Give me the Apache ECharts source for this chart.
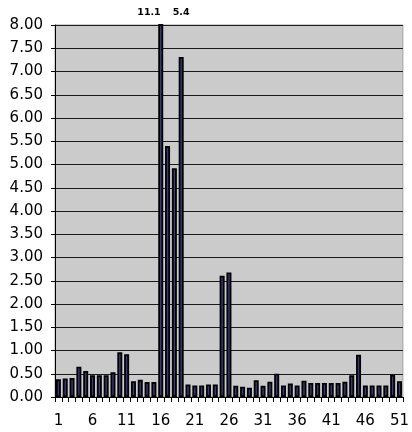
<!DOCTYPE html>
<html>
<head>
<meta charset="utf-8">
<script src="https://cdn.jsdelivr.net/npm/echarts@6/dist/echarts.min.js"></script>
<style>
  html, body { margin: 0; padding: 0; background: #fff; }
  #chart { width: 412px; height: 432px; }
</style>
</head>
<body>
<div id="chart"></div>
<script>
// Category numbers along the x axis
var categories = [];
for (var n = 1; n <= 51; n++) categories.push(String(n));

// Bar values, one per category
var values = [
  0.38, 0.40, 0.41, 0.65, 0.56, 0.47, 0.47, 0.47, 0.53, 0.96,
  0.92, 0.34, 0.37, 0.32, 0.32, 11.1, 5.4, 4.92, 7.31, 0.27,
  0.25, 0.25, 0.27, 0.27, 2.61, 2.68, 0.24, 0.22, 0.20, 0.36,
  0.24, 0.33, 0.50, 0.25, 0.29, 0.25, 0.35, 0.30, 0.30, 0.30,
  0.30, 0.30, 0.33, 0.47, 0.91, 0.25, 0.25, 0.25, 0.25, 0.48,
  0.34
];

// Value axis range
var yMin = 0, yMax = 8, yStep = 0.5;

// Bars taller than the axis get their value written above the plot
var overflowLabels = [
  { index: 15, text: '11.1', align: 'right', dx: 0 },
  { index: 15, text: '5.4', align: 'left', dx: 12 }
];

var FONT = '"DejaVu Sans", Verdana, sans-serif';

var chart = echarts.init(document.getElementById('chart'), null, { renderer: 'canvas' });

chart.setOption({
  animation: false,
  grid: {
    left: 55, right: 8, top: 25, bottom: 35,
    show: true,
    backgroundColor: '#cbcbcb',
    borderColor: '#a0a0a0',
    borderWidth: 1
  },
  xAxis: {
    type: 'category',
    data: categories,
    boundaryGap: true,
    axisLine: { lineStyle: { color: '#000', width: 1 } },
    axisTick: { show: true, interval: 0, length: 5, lineStyle: { color: '#000' } },
    axisLabel: {
      interval: 4,
      margin: 17,
      fontFamily: FONT,
      fontSize: 15,
      color: '#000'
    },
    splitLine: { show: false }
  },
  yAxis: {
    type: 'value',
    min: yMin,
    max: yMax,
    interval: yStep,
    axisLine: { show: true, lineStyle: { color: '#000', width: 1 } },
    axisTick: { show: true, length: 4, lineStyle: { color: '#000' } },
    axisLabel: {
      margin: 12,
      fontFamily: FONT,
      fontSize: 15,
      color: '#000',
      formatter: function (v) { return v.toFixed(2); }
    },
    splitLine: { show: true, lineStyle: { color: '#1a1a1a', width: 1 } }
  },
  series: [{
    type: 'bar',
    data: values,
    barWidth: 5,
    clip: true,
    itemStyle: {
      color: '#3a3a78',
      borderColor: '#000',
      borderWidth: 1.8
    }
  }]
});

// Place the overflow value texts above the clipped bars
var graphics = overflowLabels.map(function (o) {
  var p = chart.convertToPixel({ gridIndex: 0 }, [o.index, yMax]);
  return {
    type: 'text',
    x: p[0] + o.dx,
    y: p[1] - 12,
    style: {
      text: o.text,
      fontFamily: FONT,
      fontSize: 9.5,
      fontWeight: 'bold',
      fill: '#000',
      textAlign: o.align,
      textVerticalAlign: 'middle'
    }
  };
});
chart.setOption({ graphic: graphics });
</script>
</body>
</html>
